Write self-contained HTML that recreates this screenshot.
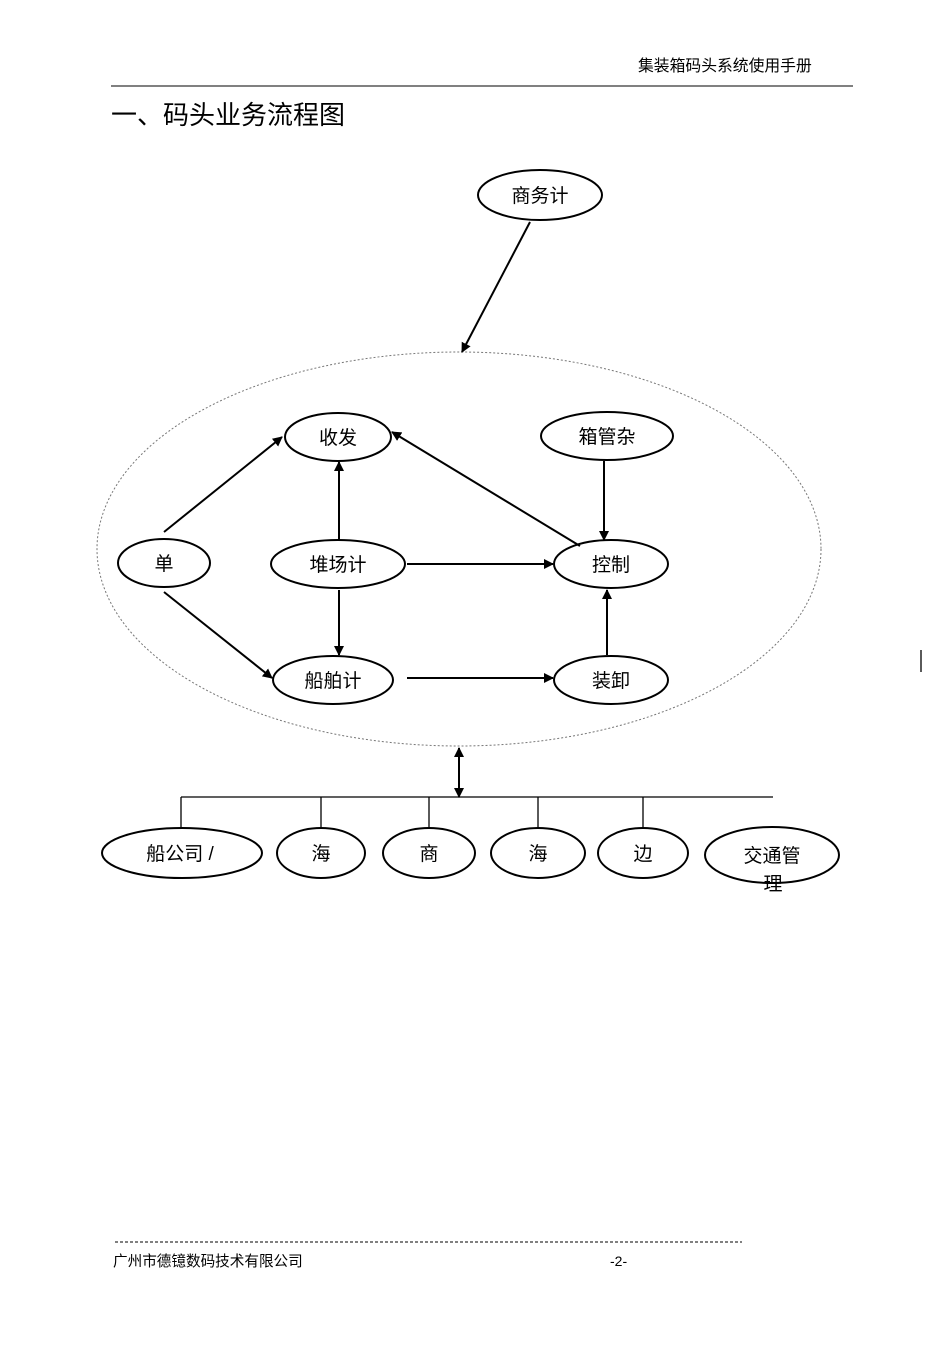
<!DOCTYPE html>
<html><head><meta charset="utf-8"><style>
body{margin:0;background:#fff}
svg text{font-family:"Liberation Sans","Noto Sans CJK SC",sans-serif;fill:#000}
</style></head><body>
<svg width="950" height="1341" viewBox="0 0 950 1341" xmlns="http://www.w3.org/2000/svg">
<defs><marker id="a" markerWidth="10" markerHeight="10" refX="9" refY="5" orient="auto" markerUnits="userSpaceOnUse"><path d="M0,0 L10,5 L0,10 z" fill="#000"/></marker>
<marker id="b" markerWidth="10" markerHeight="10" refX="1" refY="5" orient="auto" markerUnits="userSpaceOnUse"><path d="M10,0 L0,5 L10,10 z" fill="#000"/></marker></defs>
<text x="638" y="71" font-size="15.8">集装箱码头系统使用手册</text>
<line x1="111" y1="86" x2="853" y2="86" stroke="#000" stroke-width="1"/>
<text x="111" y="124" font-size="26">一、码头业务流程图</text>
<g fill="none" stroke="#000" stroke-width="2">
<ellipse cx="459" cy="549" rx="362" ry="197" stroke="#777" stroke-width="1" stroke-dasharray="2,2"/>
<ellipse cx="540" cy="195" rx="62" ry="25"/>
<ellipse cx="338" cy="437" rx="53" ry="24"/>
<ellipse cx="607" cy="436" rx="66" ry="24"/>
<ellipse cx="164" cy="563" rx="46" ry="24"/>
<ellipse cx="338" cy="564" rx="67" ry="24"/>
<ellipse cx="611" cy="564" rx="57" ry="24"/>
<ellipse cx="333" cy="680" rx="60" ry="24"/>
<ellipse cx="611" cy="680" rx="57" ry="24"/>
<ellipse cx="182" cy="853" rx="80" ry="25"/>
<ellipse cx="321" cy="853" rx="44" ry="25"/>
<ellipse cx="429" cy="853" rx="46" ry="25"/>
<ellipse cx="538" cy="853" rx="47" ry="25"/>
<ellipse cx="643" cy="853" rx="45" ry="25"/>
<ellipse cx="772" cy="855" rx="67" ry="28"/>
<line x1="530" y1="222" x2="462" y2="352" marker-end="url(#a)"/>
<line x1="164" y1="532" x2="282" y2="437" marker-end="url(#a)"/>
<line x1="164" y1="592" x2="272" y2="678" marker-end="url(#a)"/>
<line x1="339" y1="540" x2="339" y2="462" marker-end="url(#a)"/>
<line x1="339" y1="590" x2="339" y2="655" marker-end="url(#a)"/>
<line x1="407" y1="564" x2="553" y2="564" marker-end="url(#a)"/>
<line x1="407" y1="678" x2="553" y2="678" marker-end="url(#a)"/>
<line x1="607" y1="655" x2="607" y2="590" marker-end="url(#a)"/>
<line x1="604" y1="461" x2="604" y2="540" marker-end="url(#a)"/>
<line x1="580" y1="546" x2="392" y2="432" marker-end="url(#a)"/>
<line x1="459" y1="748" x2="459" y2="797" marker-end="url(#a)" marker-start="url(#b)"/>
</g>
<g stroke="#000" stroke-width="1.3">
<line x1="181" y1="797" x2="773" y2="797"/>
<line x1="181" y1="797" x2="181" y2="828"/>
<line x1="321" y1="797" x2="321" y2="828"/>
<line x1="429" y1="797" x2="429" y2="828"/>
<line x1="538" y1="797" x2="538" y2="828"/>
<line x1="643" y1="797" x2="643" y2="828"/>
<line x1="921" y1="650" x2="921" y2="672"/>
</g>
<g font-size="19" text-anchor="middle">
<text x="540" y="202">商务计</text>
<text x="338" y="444">收发</text>
<text x="607" y="443">箱管杂</text>
<text x="164" y="570">单</text>
<text x="338" y="571">堆场计</text>
<text x="611" y="571">控制</text>
<text x="333" y="687">船舶计</text>
<text x="611" y="687">装卸</text>
<text x="180" y="860">船公司 /</text>
<text x="321" y="860">海</text>
<text x="429" y="860">商</text>
<text x="538" y="860">海</text>
<text x="643" y="860">边</text>
<text x="772" y="862">交通管</text>
<text x="773" y="890">理</text>
</g>
<line x1="115" y1="1242" x2="742" y2="1242" stroke="#000" stroke-width="1" stroke-dasharray="3,2"/>
<text x="113" y="1266" font-size="14.6">广州市德镱数码技术有限公司</text>
<text x="610" y="1266" font-size="14">-2-</text>
</svg>
</body></html>
